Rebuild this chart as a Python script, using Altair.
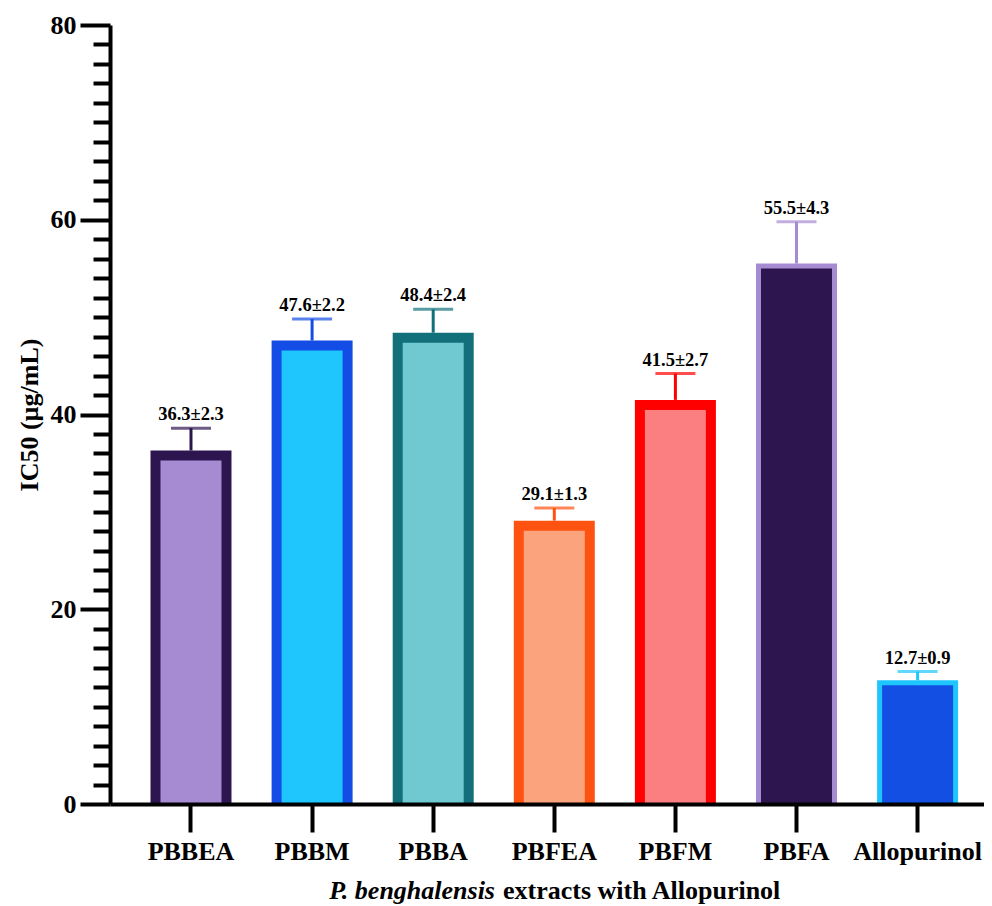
import altair as alt
import pandas as pd

categories = ["PBBEA", "PBBM", "PBBA", "PBFEA", "PBFM", "PBFA", "Allopurinol"]
means = [36.3, 47.6, 48.4, 29.1, 41.5, 55.5, 12.7]
sds = [2.3, 2.2, 2.4, 1.3, 2.7, 4.3, 0.9]
fill_colors = ["#A68BD2", "#1FC6FE", "#70C8D0", "#FBA37D", "#FB7F80", "#2D1650", "#144FE4"]
border_colors = ["#2D1650", "#144DE6", "#11707A", "#FE5310", "#FF0000", "#A68BD2", "#1FC6FE"]
border_group = ["thick", "thick", "thick", "thick", "thick", "thin", "thin"]
major_ticks = [0, 20, 40, 60, 80]
minor_ticks = [v for v in range(0, 81, 2) if v % 20 != 0]

df = pd.DataFrame({
    "cat": categories,
    "mean": means,
    "sd": sds,
    "fill": fill_colors,
    "border": border_colors,
    "grp": border_group,
})
df["upper"] = df["mean"] + df["sd"]
df["label"] = [f"{m}±{s}" for m, s in zip(means, sds)]

FONT = "Liberation Serif"

xenc = alt.X(
    "cat:N",
    sort=categories,
    scale=alt.Scale(paddingInner=0.331, paddingOuter=0.274, align=0.61),
    axis=alt.Axis(
        title=None, labelAngle=0, labelFont=FONT, labelFontSize=26, labelFontWeight="bold",
        labelColor="black", labelPadding=6, tickSize=28, tickWidth=4, tickColor="black",
        domainWidth=4, domainColor="black", zindex=1,
    ),
)
yscale = alt.Scale(domain=[0, 80], nice=False)

base = alt.Chart(df)

outer = base.mark_bar(width=81).encode(
    x=xenc,
    y=alt.Y(
        "mean:Q", scale=yscale,
        axis=alt.Axis(
            values=major_ticks, grid=False, tickSize=30, tickWidth=4, tickColor="black",
            domainWidth=4, domainColor="black", labelFont=FONT, labelFontSize=26,
            labelFontWeight="bold", labelColor="black", labelPadding=4,
            title="IC50 (µg/mL)", titleFont=FONT, titleFontSize=26, titleFontWeight="bold",
            titleColor="black", titleX=-81, titleY=389.5, titleAngle=-90,
            titleAlign="center", titleBaseline="middle", zindex=1,
        ),
    ),
    color=alt.Color("border:N", scale=None),
)

inner_thick = base.transform_filter("datum.grp == 'thick'").mark_bar(
    width=61, yOffset=10, y2Offset=0
).encode(
    x=xenc,
    y=alt.Y("mean:Q", scale=yscale, axis=None),
    y2=alt.datum(0),
    color=alt.Color("fill:N", scale=None),
)

inner_thin = base.transform_filter("datum.grp == 'thin'").mark_bar(
    width=71, yOffset=5, y2Offset=0
).encode(
    x=xenc,
    y=alt.Y("mean:Q", scale=yscale, axis=None),
    y2=alt.datum(0),
    color=alt.Color("fill:N", scale=None),
)

err = base.mark_rule(strokeWidth=3).encode(
    x=xenc,
    y=alt.Y("mean:Q", scale=yscale, axis=None),
    y2="upper:Q",
    color=alt.Color("border:N", scale=None),
)

cap = base.mark_tick(size=40, thickness=3).encode(
    x=xenc,
    y=alt.Y("upper:Q", scale=yscale, axis=None),
    color=alt.Color("border:N", scale=None),
)

labels = base.mark_text(
    dy=-8, baseline="alphabetic", align="center", font=FONT, fontSize=18.5,
    fontWeight="bold", color="black",
).encode(
    x=xenc,
    y=alt.Y("upper:Q", scale=yscale, axis=None),
    text="label:N",
)

minor_axis = base.mark_bar(opacity=0).encode(
    x=xenc,
    y=alt.Y(
        "mean:Q", scale=yscale,
        axis=alt.Axis(
            values=minor_ticks, grid=False, labels=False, domain=False, title=None,
            orient="left", tickSize=17, tickWidth=4, tickColor="black", zindex=1,
        ),
    ),
)

title_it = alt.Chart(pd.DataFrame({"t": ["P. benghalensis"]})).mark_text(
    align="right", baseline="alphabetic", font=FONT, fontSize=26, fontWeight="bold",
    fontStyle="italic", color="black",
).encode(x=alt.value(385), y=alt.value(874), text="t:N")

title_rest = alt.Chart(pd.DataFrame({"t": ["extracts with Allopurinol"]})).mark_text(
    align="left", baseline="alphabetic", font=FONT, fontSize=26, fontWeight="bold",
    color="black",
).encode(x=alt.value(393), y=alt.value(874), text="t:N")

chart = alt.layer(
    outer, inner_thick, inner_thin, err, cap, labels, minor_axis, title_it, title_rest
).resolve_axis(y="independent").properties(
    width=874,
    height=779,
    background="white",
    autosize=alt.AutoSizeParams(type="none"),
    padding={"left": 102, "top": 17, "right": 0, "bottom": 102},
).configure_view(stroke="transparent", strokeWidth=0)

chart.save("out.html", embed_options={"renderer": "svg", "actions": False})
